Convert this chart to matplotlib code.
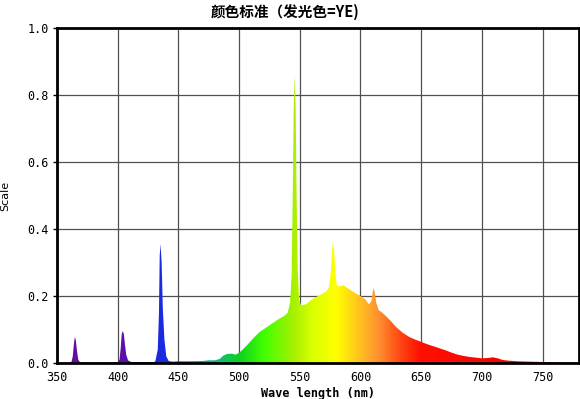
import numpy as np
import matplotlib
matplotlib.use("Agg")
import matplotlib.pyplot as plt
from matplotlib.colors import LinearSegmentedColormap

# spectrum (wavelength nm, relative intensity)
wavelength = [350, 360, 362, 363, 364, 364.7, 365.5, 366.5, 367.5, 369,
              380, 400, 401.5, 402.5, 403.3, 404, 405, 406, 407, 408.5,
              411, 420, 430, 431, 433, 434, 434.6, 435.3, 436.2, 437.2,
              438.5, 440, 442, 445, 450, 460, 470, 475, 480, 484,
              487, 490, 494, 497, 500, 503, 507, 512, 517, 522,
              528, 533, 537, 540, 542, 543.3, 544.2, 545, 545.8, 546.6,
              547.4, 548.4, 549.5, 551, 555, 560, 565, 570, 572, 574,
              575.5, 576.5, 577.2, 578.2, 579.2, 580.3, 582, 586, 590, 596,
              600, 604, 607, 609, 610, 610.8, 611.8, 613, 615, 618,
              621, 625, 630, 635, 640, 645, 650, 655, 660, 665,
              670, 675, 680, 685, 690, 695, 700, 705, 709, 713,
              717, 722, 730, 740, 750, 760, 770, 780]
intensity = [0.0, 0.001, 0.004, 0.02, 0.06, 0.078, 0.068, 0.035, 0.01, 0.002,
             0.001, 0.002, 0.01, 0.045, 0.085, 0.095, 0.088, 0.055, 0.025, 0.008,
             0.003, 0.003, 0.003, 0.005, 0.04, 0.15, 0.32, 0.355, 0.3, 0.16,
             0.07, 0.02, 0.006, 0.004, 0.005, 0.005, 0.006, 0.008, 0.008, 0.012,
             0.022, 0.027, 0.028, 0.025, 0.03, 0.04, 0.055, 0.075, 0.093, 0.105,
             0.12, 0.132, 0.14, 0.15, 0.18, 0.26, 0.5, 0.76, 0.86, 0.76,
             0.5, 0.27, 0.19, 0.172, 0.175, 0.19, 0.2, 0.21, 0.215, 0.225,
             0.27, 0.33, 0.362, 0.34, 0.28, 0.235, 0.228, 0.232, 0.222, 0.208,
             0.2, 0.19, 0.175, 0.185, 0.21, 0.224, 0.21, 0.18, 0.158, 0.15,
             0.14, 0.125, 0.105, 0.09, 0.078, 0.07, 0.063, 0.056, 0.05, 0.044,
             0.038, 0.031, 0.025, 0.021, 0.018, 0.016, 0.014, 0.015, 0.017, 0.014,
             0.009, 0.007, 0.005, 0.004, 0.003, 0.002, 0.001, 0.001]

x_ticks = [350, 400, 450, 500, 550, 600, 650, 700, 750]
y_ticks = [0.0, 0.2, 0.4, 0.6, 0.8, 1.0]

# colour stops along the wavelength axis
stop_nm = [350, 410, 425, 440, 455, 470, 485, 500, 520, 545, 560, 580, 600, 615, 635, 650, 780]
stop_colors = ["#6a0aa0", "#5a10b0", "#3020d0", "#1030e8", "#1060d0", "#10a0b0",
               "#10c070", "#10d020", "#40ff00", "#a8f000", "#d8ff00", "#ffff00",
               "#ffc020", "#ff9030", "#ff4010", "#ff1000", "#e00000"]

x_min, x_max = 350, 780

fig = plt.figure(figsize=(5.8, 3.99), dpi=100)
ax = fig.add_axes([57 / 580, 1 - 363 / 399, 522 / 580, 335 / 399])

cmap = LinearSegmentedColormap.from_list(
    "spec", [((n - x_min) / (x_max - x_min), c) for n, c in zip(stop_nm, stop_colors)])

# fill the spectrum with a wavelength gradient clipped to the curve
poly = ax.fill_between(wavelength, intensity, 0, facecolor="none", edgecolor="none", zorder=3)
grad = np.linspace(0, 1, 1000).reshape(1, -1)
img = ax.imshow(grad, cmap=cmap, aspect="auto", extent=[x_min, x_max, 0, 1],
                origin="lower", zorder=3, interpolation="bilinear")
img.set_clip_path(poly.get_paths()[0], transform=ax.transData)

ax.set_xlim(x_min, x_max)
ax.set_ylim(0, 1)
ax.set_xticks(x_ticks)
ax.set_yticks(y_ticks)
ax.set_yticklabels([f"{v:.1f}" for v in y_ticks])
ax.grid(True, color="#505050", linewidth=0.9)
ax.set_axisbelow(True)

for s in ax.spines.values():
    s.set_linewidth(2)
    s.set_color("black")
    s.set_zorder(5)

ax.tick_params(axis="x", length=0, pad=6, labelsize=8.5)
ax.tick_params(axis="y", length=3, width=1, pad=3, labelsize=8.5)
for lab in ax.get_xticklabels() + ax.get_yticklabels():
    lab.set_family("DejaVu Sans Mono")

ax.set_xlabel("Wave length (nm)", family="DejaVu Sans Mono", fontsize=8.5,
              fontweight="bold", labelpad=2)
ax.set_ylabel("Scale", fontsize=8, labelpad=12)

fig.text(285 / 580, 1 - 12 / 399, "颜色标准（发光色=YE)", ha="center", va="center",
         fontsize=10.5, fontweight="bold", family=["Noto Sans CJK SC", "DejaVu Sans"])

plt.savefig("out.png", dpi=100)
plt.close()
